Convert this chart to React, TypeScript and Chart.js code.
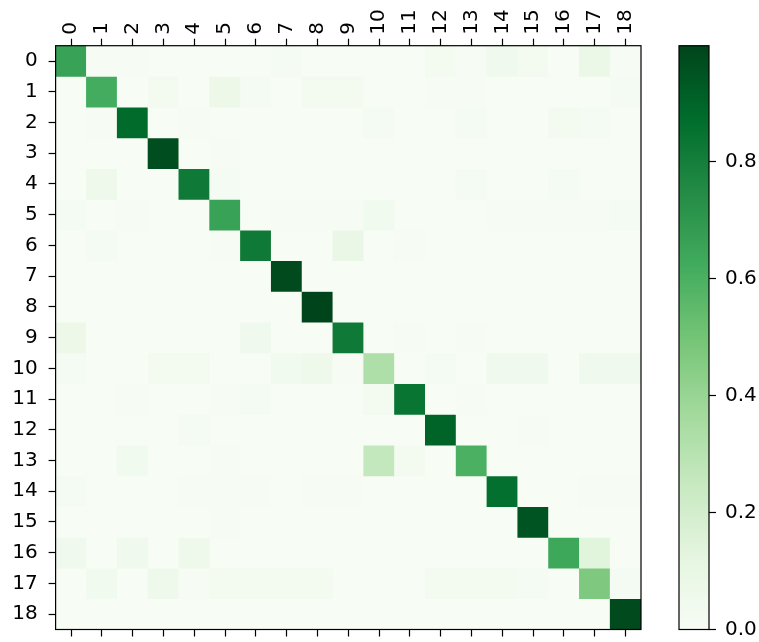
import React, { useEffect, useRef } from "react";
import { Chart, registerables } from "chart.js";

Chart.register(...registerables);

const categories = ["0","1","2","3","4","5","6","7","8","9","10","11","12","13","14","15","16","17","18"];

const r0 = [0.66,0.01,0.01,0,0,0,0,0.02,0,0,0,0,0.03,0.01,0.05,0.03,0,0.08,0.01];
const r1 = [0,0.62,0,0.03,0,0.07,0.02,0,0.03,0.03,0,0,0.01,0.01,0,0,0,0,0.02];
const r2 = [0,0.01,0.88,0,0.01,0,0,0,0,0,0.02,0,0,0.02,0,0,0.03,0.02,0];
const r3 = [0,0,0,0.97,0,0.01,0,0,0,0,0,0,0,0,0,0,0,0,0];
const r4 = [0,0.06,0,0,0.82,0.02,0,0,0,0,0,0,0,0.02,0,0,0.02,0,0];
const r5 = [0.02,0,0.01,0,0,0.66,0,0.01,0.01,0.01,0.04,0,0,0,0.01,0.01,0.01,0.01,0.02];
const r6 = [0,0.02,0,0,0,0.01,0.82,0,0,0.09,0,0.01,0,0,0,0,0,0,0];
const r7 = [0,0,0,0,0,0,0,0.98,0,0,0,0,0,0,0,0,0,0,0];
const r8 = [0,0,0,0,0,0,0,0,0.998,0,0,0,0,0,0,0,0,0,0];
const r9 = [0.07,0,0,0,0,0,0.05,0,0,0.82,0,0.01,0,0.01,0,0,0,0,0];
const r10 = [0.02,0,0,0.03,0.03,0,0,0.04,0.06,0.01,0.33,0,0.02,0,0.05,0.05,0,0.05,0.05];
const r11 = [0,0,0.01,0,0,0.01,0.02,0,0,0,0.03,0.84,0,0.01,0,0,0,0,0];
const r12 = [0,0,0,0,0.02,0,0,0,0,0,0,0,0.9,0,0,0.01,0,0,0];
const r13 = [0,0,0.04,0,0,0.01,0,0,0,0,0.26,0.03,0,0.6,0,0,0,0,0];
const r14 = [0.02,0,0,0,0.01,0.01,0.01,0,0.01,0.01,0,0,0,0,0.86,0,0,0.01,0.01];
const r15 = [0,0,0,0,0,0.01,0,0,0,0,0,0,0,0,0,0.95,0,0,0];
const r16 = [0.05,0,0.05,0,0.06,0,0,0,0,0,0,0,0,0,0,0,0.64,0.14,0];
const r17 = [0,0.04,0,0.06,0.01,0.03,0.03,0.03,0.03,0,0,0,0.03,0.03,0.03,0.02,0,0.47,0.02];
const r18 = [0,0,0,0,0,0,0,0,0,0,0,0,0,0,0,0,0,0,0.98];

const rows = [r0,r1,r2,r3,r4,r5,r6,r7,r8,r9,r10,r11,r12,r13,r14,r15,r16,r17,r18];
const colorbarTicks = [0, 0.2, 0.4, 0.6, 0.8];

const GREENS: [number, number[]][] = [
  [0, [247,252,245]],
  [0.125, [229,245,224]],
  [0.25, [199,233,192]],
  [0.375, [161,217,155]],
  [0.5, [116,196,118]],
  [0.625, [65,171,93]],
  [0.75, [35,139,69]],
  [0.875, [0,109,44]],
  [1, [0,68,27]],
];

function greens(t: number): string {
  const v = Math.max(0, Math.min(1, t));
  for (let i = 1; i < GREENS.length; i++) {
    const [p1, c1] = GREENS[i];
    const [p0, c0] = GREENS[i - 1];
    if (v <= p1) {
      const f = (v - p0) / (p1 - p0);
      const c = c0.map((a, k) => Math.round(a + (c1[k] - a) * f));
      return `rgb(${c[0]},${c[1]},${c[2]})`;
    }
  }
  return "rgb(0,68,27)";
}

const FONT = { family: "'DejaVu Sans', sans-serif", size: 20 };

const framePlugin = {
  id: "frame",
  afterDraw(chart: any) {
    const { ctx, chartArea } = chart;
    ctx.save();
    ctx.strokeStyle = "#000";
    ctx.lineWidth = 1.2;
    ctx.strokeRect(chartArea.left, chartArea.top, chartArea.right - chartArea.left, chartArea.bottom - chartArea.top);
    ctx.restore();
  },
};

export default function App() {
  const heatRef = useRef<HTMLCanvasElement>(null);
  const barRef = useRef<HTMLCanvasElement>(null);

  useEffect(() => {
    const vmin = Math.min(...rows.flat());
    const vmax = Math.max(...rows.flat());
    const norm = (v: number) => (v - vmin) / (vmax - vmin);

    const datasets = rows.map((row, r) => ({
      label: `row ${r}`,
      data: row.map(() => [r - 0.5, r + 0.5]),
      backgroundColor: row.map((v) => greens(norm(v))),
      borderWidth: 0,
      barPercentage: 1,
      categoryPercentage: 1,
      grouped: false,
      xAxisID: "x",
      yAxisID: "y",
    }));

    const tickGrid = {
      display: true,
      drawOnChartArea: false,
      drawTicks: true,
      tickLength: 7,
      tickWidth: 1.2,
      tickColor: "#000",
      offset: false,
      color: "#000",
    };

    const heat = new Chart(heatRef.current!, {
      type: "bar",
      data: { labels: categories, datasets: datasets as any },
      options: {
        animation: false,
        responsive: false,
        maintainAspectRatio: false,
        layout: { padding: { left: 0, top: 0, right: 39, bottom: 0 } },
        plugins: { legend: { display: false }, tooltip: { enabled: false } },
        scales: {
          x: {
            type: "category",
            position: "top",
            grid: tickGrid as any,
            border: { display: false },
            ticks: { color: "#000", font: FONT, minRotation: 90, maxRotation: 90, padding: 4, labelOffset: 24, autoSkip: false },
            afterFit: (s: any) => { s.height = 45.7; },
          },
          x2: {
            type: "category",
            position: "bottom",
            grid: tickGrid as any,
            border: { display: false },
            ticks: { display: false },
            afterFit: (s: any) => { s.height = 12.5; },
          },
          y: {
            type: "linear",
            reverse: true,
            min: -0.5,
            max: 18.5,
            grid: tickGrid as any,
            border: { display: false },
            ticks: {
              color: "#000",
              font: FONT,
              padding: 11,
              callback: (v: any) => categories[Number(v)],
            },
            afterBuildTicks: (s: any) => { s.ticks = categories.map((_, i) => ({ value: i })); },
            afterFit: (s: any) => { s.width = 55.6; s.paddingTop = 0; s.paddingBottom = 0; },
          },
        },
      },
      plugins: [framePlugin],
    });

    const bar = new Chart(barRef.current!, {
      type: "bar",
      data: {
        labels: [""],
        datasets: [{
          data: [[vmin, vmax]] as any,
          backgroundColor: (c: any) => {
            const { chart } = c;
            const area = chart.chartArea;
            if (!area) return greens(0.5);
            const g = chart.ctx.createLinearGradient(0, area.bottom, 0, area.top);
            GREENS.forEach(([p, col]) => g.addColorStop(p, `rgb(${col[0]},${col[1]},${col[2]})`));
            return g;
          },
          borderWidth: 0,
          barPercentage: 1,
          categoryPercentage: 1,
        }],
      },
      options: {
        animation: false,
        responsive: false,
        maintainAspectRatio: false,
        layout: { padding: { left: 19, top: 45.7, right: 0, bottom: 12.5 } },
        plugins: { legend: { display: false }, tooltip: { enabled: false } },
        scales: {
          x: { display: false },
          y: {
            position: "right",
            min: vmin,
            max: vmax,
            grid: tickGrid as any,
            border: { display: false },
            ticks: {
              color: "#000",
              font: FONT,
              padding: 9,
              callback: (v: any) => Number(v).toFixed(1),
            },
            afterBuildTicks: (s: any) => { s.ticks = colorbarTicks.map((v) => ({ value: v })); },
            afterFit: (s: any) => { s.width = 50; s.paddingTop = 0; s.paddingBottom = 0; },
          },
        },
      },
      plugins: [framePlugin],
    });

    return () => {
      heat.destroy();
      bar.destroy();
    };
  }, []);

  return (
    <div style={{ position: "absolute", left: 0, top: 0, width: 759, height: 642, background: "#fff" }}>
      <canvas ref={heatRef} width={680} height={642} style={{ position: "absolute", left: 0, top: 0, width: 680, height: 642 }} />
      <canvas ref={barRef} width={99} height={642} style={{ position: "absolute", left: 660, top: 0, width: 99, height: 642 }} />
    </div>
  );
}
